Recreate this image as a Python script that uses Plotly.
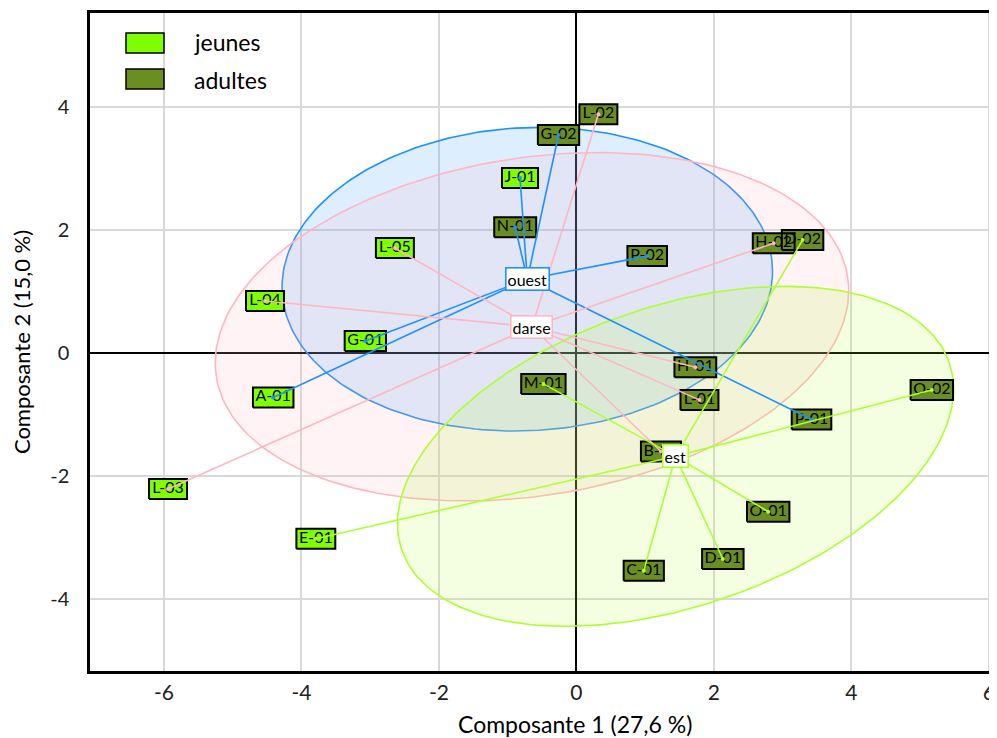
import numpy as np
import plotly.graph_objects as go

# ---------------- data ----------------
labels = ["J-01", "L-05", "L-04", "G-01", "A-01", "L-03", "E-01",
          "L-02", "G-02", "N-01", "P-02", "H-02", "D-02", "H-01", "L-01",
          "M-01", "P-01", "O-02", "B-01", "O-01", "D-01", "C-01"]
comp1 = [-0.82, -2.64, -4.53, -3.07, -4.41, -5.94, -3.79,
         0.32, -0.26, -0.89, 1.03, 2.87, 3.29, 1.73, 1.79,
         -0.48, 3.42, 5.17, 1.23, 2.79, 2.13, 0.98]
comp2 = [2.85, 1.71, 0.85, 0.20, -0.72, -2.21, -3.02,
         3.89, 3.55, 2.05, 1.58, 1.79, 1.84, -0.23, -0.76,
         -0.50, -1.08, -0.60, -1.60, -2.58, -3.35, -3.54]
age = ["jeunes"] * 7 + ["adultes"] * 15
site = ["ouest", "darse", "darse", "ouest", "ouest", "darse", "est",
        "darse", "ouest", "ouest", "ouest", "darse", "est", "darse", "darse",
        "est", "ouest", "est", "darse", "est", "est", "est"]

site_order = ["ouest", "darse", "est"]
age_order = ["jeunes", "adultes"]
x_ticks = [-6, -4, -2, 0, 2, 4, 6]
x_ticktext = ["-6", "-4", "-2", "0", "2", "4", "6"]
y_ticks = [-4, -2, 0, 2, 4]
y_ticktext = ["-4", "-2", "0", "2", "4"]
x_title = "Composante 1 (27,6 %)"
y_title = "Composante 2 (15,0 %)"

# ---------------- styles ----------------
site_line = {"ouest": "#1E90FF", "darse": "#FFB6C1", "est": "#ADFF2F"}
site_fill = {"ouest": "rgba(30,144,255,0.15)", "darse": "rgba(255,182,193,0.17)",
             "est": "rgba(173,255,47,0.15)"}
age_fill = {"jeunes": "#7FFF00", "adultes": "#6B8E23"}
FONT = "Lato"
XR = [-7.075, 6.118]
YR = [-5.172, 5.536]
OFF = 8  # page body margin
W, H = 997 - OFF, 738 - OFF
ML, MR, MT, MB = 90 - OFF, 0, 13 - OFF, 67
pw, ph = W - ML - MR, H - MT - MB
px_x = pw / (XR[1] - XR[0])
px_y = ph / (YR[1] - YR[0])
LBL_SIZE = 16
cw = {"A": .68, "B": .65, "C": .66, "D": .74, "E": .58, "G": .73, "H": .76, "J": .40,
      "L": .52, "M": .92, "N": .77, "O": .80, "P": .62, "-": .38}

def text_w(s):
    return sum(cw.get(c, .58) for c in s) * LBL_SIZE

x = np.array(comp1)
y = np.array(comp2)

fig = go.Figure()

# ellipses (ade4 s.class style, cellipse = 1.5)
cent = {}
for s in site_order:
    idx = [i for i, v in enumerate(site) if v == s]
    xs, ys = x[idx], y[idx]
    mx, my = xs.mean(), ys.mean()
    cent[s] = (mx, my)
    cov = np.cov(np.vstack([xs, ys]), bias=True)
    vals, vecs = np.linalg.eigh(cov)
    t = np.linspace(0, 2 * np.pi, 241)
    circ = np.vstack([np.cos(t), np.sin(t)]) * np.sqrt(vals)[:, None] * 1.5
    pts = vecs @ circ
    fig.add_trace(go.Scatter(x=pts[0] + mx, y=pts[1] + my, mode="lines",
                             fill="toself", fillcolor=site_fill[s],
                             line=dict(color=site_line[s], width=1.6),
                             hoverinfo="skip", showlegend=False))

# label boxes
hh = 10 / px_y
for a in age_order:
    bx, by = [], []
    for i, v in enumerate(age):
        if v != a:
            continue
        hw = (text_w(labels[i]) + 5) / 2 / px_x
        bx += [x[i] - hw, x[i] + hw, x[i] + hw, x[i] - hw, x[i] - hw, None]
        by += [y[i] - hh, y[i] - hh, y[i] + hh, y[i] + hh, y[i] - hh, None]
    fig.add_trace(go.Scatter(x=bx, y=by, mode="lines", fill="toself",
                             fillcolor=age_fill[a], line=dict(color="black", width=2),
                             hoverinfo="skip", showlegend=False))

fig.add_trace(go.Scatter(x=x, y=y, mode="text", text=labels,
                         textfont=dict(family=FONT, size=LBL_SIZE, color="black"),
                         hoverinfo="skip", showlegend=False))

# links to group centres
for s in site_order:
    lx, ly = [], []
    for i, v in enumerate(site):
        if v == s:
            lx += [cent[s][0], x[i], None]
            ly += [cent[s][1], y[i], None]
    fig.add_trace(go.Scatter(x=lx, y=ly, mode="lines",
                             line=dict(color=site_line[s], width=1.6),
                             hoverinfo="skip", showlegend=False))
    idx = [i for i, v in enumerate(site) if v == s]
    fig.add_trace(go.Scatter(x=x[idx], y=y[idx], mode="markers",
                             marker=dict(color=site_line[s], size=4),
                             hoverinfo="skip", showlegend=False))

for s in site_order:
    fig.add_annotation(x=cent[s][0], y=cent[s][1], text=s, showarrow=False,
                       bgcolor="white", bordercolor=site_line[s], borderwidth=1.6,
                       borderpad=1, font=dict(family=FONT, size=16, color="black"))

# legend (manual), positions given in screen pixels
def pxx(p):
    return (p - OFF - ML) / pw

def pxy(p):
    return (H - MB - (p - OFF)) / ph

leg = [("jeunes", 33, 53, 42), ("adultes", 69, 89, 80)]
for name, t0, t1, tc in leg:
    fig.add_shape(type="rect", xref="paper", yref="paper",
                  x0=pxx(126), x1=pxx(164), y0=pxy(t1), y1=pxy(t0),
                  fillcolor=age_fill[name], line=dict(color="black", width=1.5))
    fig.add_annotation(xref="paper", yref="paper", x=pxx(192), y=pxy(tc),
                       xanchor="left", yanchor="middle", text=name, showarrow=False,
                       font=dict(family=FONT, size=23, color="black"))

# x axis title (the original plot region is cropped on the right, so the
# title is centred near the x = 0 line rather than the visible area)
fig.add_annotation(xref="paper", yref="paper", x=pxx(575), y=pxy(724),
                   xanchor="center", yanchor="middle", text=x_title, showarrow=False,
                   font=dict(family=FONT, size=23, color="black"))

fig.update_layout(
    width=W, height=H, margin=dict(l=ML, r=MR, t=MT, b=MB),
    plot_bgcolor="white", paper_bgcolor="white",
    font=dict(family=FONT, color="black"),
    showlegend=False,
)
fig.update_xaxes(range=XR, tickvals=x_ticks, ticktext=x_ticktext,
                 showgrid=True, gridcolor="#D9D9D9", gridwidth=1.5,
                 zeroline=True, zerolinecolor="black", zerolinewidth=1.5,
                 showline=True, mirror=True, linecolor="black", linewidth=2.5,
                 ticks="", ticklabelstandoff=1, tickfont=dict(size=21, color="#222"))
fig.update_yaxes(range=YR, tickvals=y_ticks, ticktext=y_ticktext,
                 showgrid=True, gridcolor="#D9D9D9", gridwidth=1.5,
                 zeroline=True, zerolinecolor="black", zerolinewidth=1.5,
                 showline=True, mirror=False, linecolor="black", linewidth=2.5,
                 ticks="", ticklabelstandoff=14, tickfont=dict(size=20, color="#222"),
                 title=dict(text=y_title, font=dict(size=22), standoff=14))

fig.write_html("out.html")
